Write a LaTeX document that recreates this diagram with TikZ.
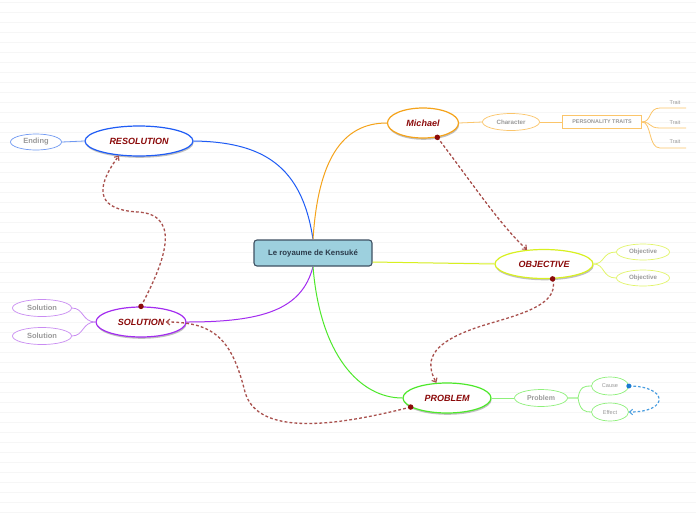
\documentclass[tikz,border=0pt]{standalone}
\usepackage{fontspec}
\setmainfont{Liberation Sans}
\usetikzlibrary{shapes.geometric,arrows.meta,shadows}
\definecolor{cfill}{HTML}{9DD0DE}
\definecolor{cborder}{HTML}{3F5163}
\definecolor{ctext}{HTML}{2B3B4B}
\definecolor{dred}{HTML}{8B0A0A}
\definecolor{relred}{HTML}{A9514E}
\definecolor{cblue}{HTML}{1F5CF5}
\definecolor{corange}{HTML}{F5A31A}
\definecolor{cyellow}{HTML}{D8F020}
\definecolor{cpurple}{HTML}{A32CF0}
\definecolor{cgreen}{HTML}{4DE82A}
\definecolor{lblue}{HTML}{7099F2}
\definecolor{lorange}{HTML}{FBC56A}
\definecolor{lyellow}{HTML}{E2F56A}
\definecolor{lpurple}{HTML}{C98CF2}
\definecolor{lgreen}{HTML}{8EF07A}
\definecolor{relblue}{HTML}{4A9EE0}
\definecolor{dotblue}{HTML}{1A7AD0}
\definecolor{stripe}{HTML}{F6F6F6}
\definecolor{ctxt}{HTML}{9A9A9A}
\tikzset{
  centralbox/.style={draw=cborder, fill=cfill, rounded corners=3pt, line width=1.1pt,
    minimum width=118pt, minimum height=26pt, inner sep=0pt,
    font=\fontsize{7.8}{9}\selectfont\bfseries, text=ctext},
  mainnode/.style={ellipse, draw=#1, fill=white, line width=1.2pt, inner sep=0pt,
    minimum height=30pt, font=\fontsize{9}{10}\selectfont\bfseries\itshape, text=dred,
    drop shadow={shadow xshift=0.6pt, shadow yshift=-1.8pt, opacity=0.35, fill=black!70}},
  childnode/.style={ellipse, draw=#1, fill=white, line width=0.7pt, inner sep=0pt,
    minimum height=17pt, text=ctxt},
  branch/.style={draw=#1, line width=1pt},
  sub/.style={draw=#1, line width=0.8pt},
  rel/.style={draw=relred, line width=1.3pt, dash pattern=on 2.8pt off 2.2pt,
    -{Straight Barb[length=3.5pt,width=6pt,line width=1.1pt]}},
  reldot/.style={circle, fill=dred, inner sep=0pt, minimum size=5.5pt},
  traittext/.style={font=\fontsize{5.5}{6}\selectfont, text=ctxt, inner sep=0pt},
}
\begin{document}
\begin{tikzpicture}[x=1pt,y=-1pt]
\useasboundingbox (0,0) rectangle (696,520);
\fill[white] (0,0) rectangle (696,520);
\foreach \yy in {2.5,12.5,...,512.5} \draw[stripe, line width=0.7pt] (0,\yy) -- (696,\yy);

% central
\node[centralbox] (k) at (313,253) {Le royaume de Kensuké};

% main nodes
\node[mainnode=cblue, minimum width=108pt] (res) at (139,141) {RESOLUTION};
\node[mainnode=corange, minimum width=71pt] (mic) at (423,123) {Michael};
\node[mainnode=cyellow, minimum width=98pt, minimum height=29pt] (obj) at (544,264) {OBJECTIVE};
\node[mainnode=cpurple, minimum width=90pt] (sol) at (141,322) {SOLUTION};
\node[mainnode=cgreen, minimum width=88pt] (prob) at (447,398) {PROBLEM};

% children
\node[childnode=lblue, minimum width=51pt, minimum height=16pt, font=\fontsize{7.5}{8}\selectfont\bfseries] (end) at (36,142) {Ending};
\node[childnode=lorange, minimum width=57pt, font=\fontsize{6.2}{7}\selectfont\bfseries] (cha) at (511,122) {Character};
\node[draw=lorange, line width=0.8pt, fill=white, minimum width=79pt, minimum height=13pt, inner sep=0pt,
  font=\fontsize{5.4}{6}\selectfont\bfseries, text=ctxt] (pt) at (602,122) {PERSONALITY TRAITS};
\node[childnode=lyellow, minimum width=53pt, minimum height=16pt, font=\fontsize{6.2}{7}\selectfont\bfseries] (o1) at (643,252) {Objective};
\node[childnode=lyellow, minimum width=53pt, minimum height=16pt, font=\fontsize{6.2}{7}\selectfont\bfseries] (o2) at (643,278) {Objective};
\node[childnode=lpurple, minimum width=59pt, font=\fontsize{7.5}{8}\selectfont\bfseries] (s1) at (42,308) {Solution};
\node[childnode=lpurple, minimum width=59pt, font=\fontsize{7.5}{8}\selectfont\bfseries] (s2) at (42,336) {Solution};
\node[childnode=lgreen, minimum width=53pt, font=\fontsize{7}{8}\selectfont\bfseries] (pc) at (541,398) {Problem};
\node[childnode=lgreen, minimum width=37pt, minimum height=18pt, font=\fontsize{5.6}{6}\selectfont] (cause) at (610,386) {Cause};
\node[childnode=lgreen, minimum width=37pt, minimum height=18pt, font=\fontsize{5.6}{6}\selectfont] (eff) at (610,412) {Effect};

% traits
\node[traittext] (t1) at (675,103) {Trait};
\node[traittext] (t2) at (675,123) {Trait};
\node[traittext] (t3) at (675,142) {Trait};
\coordinate (t1e) at (686,108);
\coordinate (t2e) at (686,128);
\coordinate (t3e) at (686,148);

% main branches
\draw[branch=cblue] (k.north) .. controls (302,165) and (262,142) .. (res.east);
\draw[branch=corange] (k.north) .. controls (318,160) and (342,123) .. (mic.west);
\draw[branch=cyellow] (k.east) ++(0,9) -- (obj.west);
\draw[branch=cpurple] (k.south) .. controls (302,310) and (262,322) .. (sol.east);
\draw[branch=cgreen] (k.south) .. controls (320,355) and (360,398) .. (prob.west);

% sub branches
\draw[sub=lblue] (end.east) -- (res.west);
\draw[sub=lorange] (mic.east) -- (cha.west);
\draw[sub=lorange] (cha.east) -- (pt.west);
\draw[sub=lorange] (pt.east) .. controls (652,122) and (648,108) .. (660,108) -- (t1e);
\draw[sub=lorange] (pt.east) .. controls (652,122) and (648,128) .. (660,128) -- (t2e);
\draw[sub=lorange] (pt.east) .. controls (652,122) and (648,148) .. (660,148) -- (t3e);
\draw[sub=lyellow] (obj.east) .. controls (605,264) and (602,252) .. (o1.west);
\draw[sub=lyellow] (obj.east) .. controls (605,264) and (602,278) .. (o2.west);
\draw[sub=lpurple] (sol.west) .. controls (82,322) and (84,308) .. (s1.east);
\draw[sub=lpurple] (sol.west) .. controls (82,322) and (84,336) .. (s2.east);
\draw[sub=lgreen] (prob.east) -- (pc.west);
\draw[sub=lgreen] (pc.east) -- (578,398) .. controls (580,386) and (585,386) .. (cause.west);
\draw[sub=lgreen] (pc.east) -- (578,398) .. controls (580,411) and (585,412) .. (eff.west);

% relationships
\draw[rel] (sol.north) .. controls (160,270) and (186,215) .. (138,212)
  .. controls (100,210) and (92,192) .. (res.-144);
\node[reldot] at (sol.north) {};
\draw[rel] (mic.-45) .. controls (470,180) and (500,225) .. (obj.140);
\node[reldot] at (mic.-45) {};
\draw[rel] (obj.-60) .. controls (562,310) and (500,318) .. (470,330)
  .. controls (430,345) and (425,362) .. (prob.125);
\node[reldot] at (obj.-60) {};
\draw[rel] (prob.-166) .. controls (340,425) and (258,438) .. (245,392)
  .. controls (232,340) and (215,322) .. ([xshift=-21pt]sol.east);
\node[reldot] at (prob.-166) {};
\draw[draw=relblue, line width=1.2pt, dash pattern=on 2.6pt off 2pt,
  -{Straight Barb[length=3pt,width=5.5pt,line width=1pt]}]
  (cause.east) .. controls (668,386) and (670,412) .. (eff.east);
\node[circle, fill=dotblue, inner sep=0pt, minimum size=5pt] at (cause.east) {};
\end{tikzpicture}
\end{document}
